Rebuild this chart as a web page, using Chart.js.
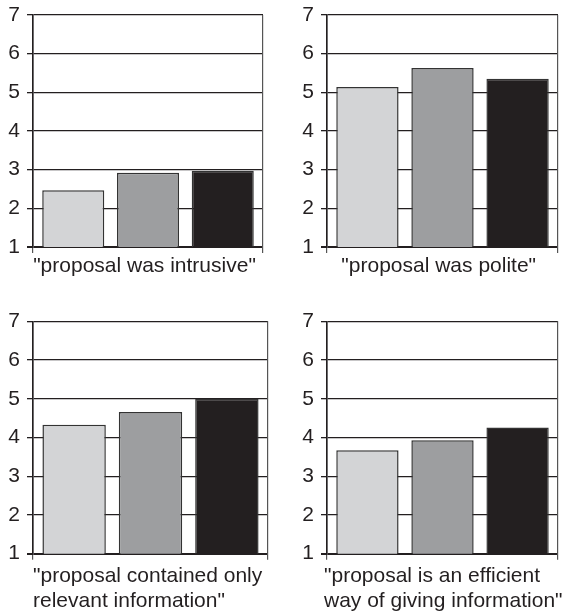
<!DOCTYPE html>
<html><head><meta charset="utf-8">
<script src="https://cdn.jsdelivr.net/npm/chart.js@4"></script>
<style>
html,body{margin:0;padding:0;background:#fff;}
#wrap{position:relative;width:564px;height:614px;overflow:hidden;background:#fff;}
.panel{position:absolute;}
</style></head><body>
<div id="wrap"></div>
<script>
// ---- data ----
const questions = [
  '"proposal was intrusive"',
  '"proposal was polite"',
  ['"proposal contained only', 'relevant information"'],
  ['"proposal is an efficient', 'way of giving information"']
];
const conditionNames = ['Condition 1', 'Condition 2', 'Condition 3'];
const lightValues = [2.47, 5.14, 4.33, 3.67];
const midValues   = [2.92, 5.63, 4.66, 3.93];
const darkValues  = [2.97, 5.35, 5.00, 4.26];
const yTickValues = [1, 2, 3, 4, 5, 6, 7];

// ---- styling / layout ----
const barColors = ['#d3d4d6', '#9d9ea0', '#231f20'];
const ink = '#231f20';
const fontFamily = "'Liberation Sans', Arial, Helvetica, sans-serif";
Chart.defaults.font.family = fontFamily;
Chart.defaults.color = ink;

const panels = [
  {left: 0,   top: 0,   padTop: 15,   padRight: 19, yW: 33, xH: 60,   align: 'center', tl: 26,   tr: 263, tpb: 28.4},
  {left: 282, top: 0,   padTop: 15,   padRight: 6,  yW: 45, xH: 60,   align: 'center', tl: 37.4, tr: 276, tpb: 28.4},
  {left: 0,   top: 307, padTop: 14.3, padRight: 14, yW: 33, xH: 60.3, align: 'start',  tl: 33,   tr: 282, tpb: 0.2},
  {left: 282, top: 307, padTop: 14.3, padRight: 6,  yW: 45, xH: 60.3, align: 'start',  tl: 42,   tr: 282, tpb: 0.2}
];
const W = 282, H = 307;

const titleBounds = {
  id: 'titleBounds',
  afterLayout(chart, args, opts) {
    const s = chart.scales.x;
    s.left = opts.left;
    s.right = opts.right;
  }
};

const wrap = document.getElementById('wrap');
panels.forEach((p, i) => {
  const div = document.createElement('div');
  div.className = 'panel';
  div.style.left = p.left + 'px';
  div.style.top = p.top + 'px';
  div.style.width = W + 'px';
  div.style.height = H + 'px';
  const cv = document.createElement('canvas');
  cv.width = W; cv.height = H;
  cv.style.width = W + 'px'; cv.style.height = H + 'px';
  div.appendChild(cv);
  wrap.appendChild(div);

  const series = [lightValues, midValues, darkValues];
  new Chart(cv, {
    type: 'bar',
    data: {
      labels: [Array.isArray(questions[i]) ? questions[i].join(' ') : questions[i]],
      datasets: series.map((vals, k) => ({
        label: conditionNames[k],
        data: [vals[i]],
        backgroundColor: barColors[k],
        borderColor: '#333333',
        borderWidth: 1.5,
        categoryPercentage: 0.975,
        barPercentage: 0.83
      }))
    },
    plugins: [titleBounds],
    options: {
      responsive: false,
      animation: false,
      devicePixelRatio: 1,
      layout: {padding: {top: p.padTop, right: p.padRight, left: 0, bottom: 0}},
      plugins: {
        legend: {display: false},
        tooltip: {enabled: false},
        titleBounds: {left: p.tl, right: p.tr}
      },
      scales: {
        y: {
          min: yTickValues[0],
          max: yTickValues[yTickValues.length - 1],
          afterBuildTicks: (s) => { s.ticks = yTickValues.map(v => ({value: v})); },
          afterFit: (s) => { s.width = p.yW; s.paddingTop = 10; s.paddingBottom = 0; },
          ticks: {
            font: {size: 21},
            color: ink,
            padding: 7
          },
          grid: {
            color: ink,
            lineWidth: (c) => c.index === 0 ? 2 : 1.3,
            tickLength: 6
          },
          border: {color: ink, width: 1.6}
        },
        x: {
          afterFit: (s) => { s.height = p.xH; },
          ticks: {display: false},
          grid: {
            offset: true,
            color: '#555',
            lineWidth: 1.2,
            tickLength: 6
          },
          border: {display: false},
          title: {
            display: true,
            text: questions[i],
            align: p.align,
            color: ink,
            font: {size: 21, lineHeight: 1.2},
            padding: {top: 0, bottom: p.tpb}
          }
        }
      }
    }
  });
});
</script>
</body></html>
